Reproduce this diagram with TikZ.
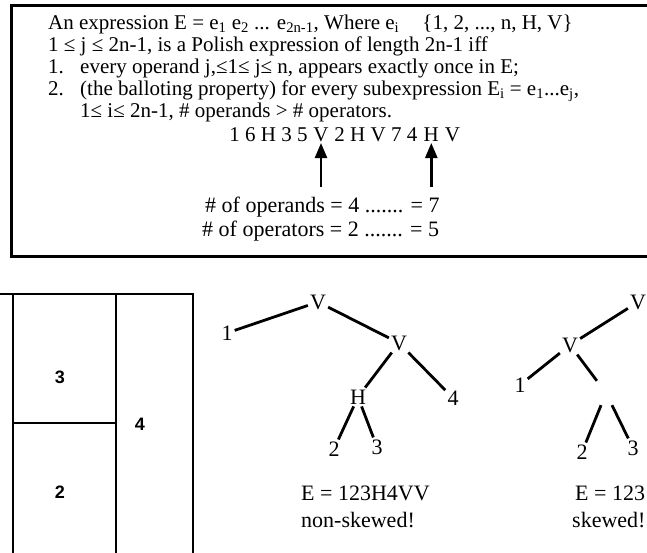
\documentclass[tikz,border=0pt]{standalone}
\usepackage{fontspec}
\setmainfont{Liberation Serif}
\newfontfamily\arialf{Liberation Sans}
\usetikzlibrary{arrows.meta}
\begin{document}
\begin{tikzpicture}[x=1pt,y=-1pt,
  txt/.style={anchor=base west, inner sep=0pt, font=\fontsize{21}{22}\selectfont},
  seqt/.style={inner sep=0pt, font=\fontsize{21}{22}\selectfont},
  tlab/.style={inner sep=2pt, font=\fontsize{22}{24}\selectfont},
  btxt/.style={anchor=base west, inner sep=0pt, font=\fontsize{22}{24}\selectfont},
  clab/.style={inner sep=0pt, font=\arialf\bfseries\fontsize{18}{20}\selectfont},
  edge/.style={line width=2.8pt},
  wall/.style={line width=2.8pt},
  frame/.style={line width=3pt},
  up/.style={line width=2.4pt, -{Triangle[width=12pt,length=15pt]}}]
\useasboundingbox (0,0) rectangle (647,552);
\clip (0,0) rectangle (647,552);
% top box
\draw[frame] (11,5) rectangle (670,256);
\node[txt] (l1) at (48,29) {An expression E = e\textsubscript{1} e\textsubscript{2} ... e\textsubscript{2n-1}, Where e\textsubscript{i}\hspace{1.1em}\{1, 2, ..., n, H, V\}};
\node[txt] (l2) at (48,51) {1 ≤ j ≤ 2n-1, is a Polish expression of length 2n-1 iff};
\node[txt] (l3a) at (48,73) {1.};
\node[txt] (l3) at (80,73) {every operand j,≤1≤ j≤ n, appears exactly once in E;};
\node[txt] (l4a) at (48,95) {2.};
\node[txt] (l4) at (80,95) {(the balloting property) for every subexpression E\textsubscript{i} = e\textsubscript{1}...e\textsubscript{j},};
\node[txt] (l5) at (80,117) {1≤ i≤ 2n-1, \# operands > \# operators.};
% sequence
\node[seqt, anchor=base] (sv) at (321,141) {V};
\node[seqt, anchor=base east] (sa) at ([xshift=-5.5pt]sv.base west) {1 6 H 3 5};
\node[seqt, anchor=base west] (sb) at ([xshift=5.5pt]sv.base east) {2 H V 7 4};
\node[seqt, anchor=base west] (sh) at ([xshift=6pt]sb.base east) {H};
\node[seqt, anchor=base west] (sw) at ([xshift=5.5pt]sh.base east) {V};
\coordinate (a1s) at ([yshift=-46pt]sv.base);
\coordinate (a2s) at ([yshift=-46pt]sh.base);
\draw[up] (a1s) -- ([yshift=-2pt]sv.base);
\draw[up] (a2s) -- ([yshift=-2pt]sh.base);
\node[txt, font=\fontsize{22}{24}\selectfont] (ops) at (205,212) {\# of operands = 4 ....... = 7};
\node[txt, font=\fontsize{22}{24}\selectfont] (opr) at (202,236) {\# of operators = 2 ....... = 5};
% floorplan
\draw[wall] (-5,294) -- (194,294);
\draw[wall] (13,294) -- (13,560);
\draw[wall] (116,294) -- (116,560);
\draw[wall] (193,294) -- (193,560);
\draw[wall] (13,423) -- (116,423);
\node[clab] (c3) at (60,377) {3};
\node[clab] (c4) at (140,424) {4};
\node[clab] (c2) at (60,492) {2};
% non-skewed tree
\node[tlab] (va) at (318,302) {V};
\node[tlab] (t1) at (227,333) {1};
\node[tlab] (vb) at (399,343) {V};
\node[tlab] (hc) at (358,397) {H};
\node[tlab] (t4) at (453,398) {4};
\node[tlab] (t2) at (334,449) {2};
\node[tlab] (t3) at (377,447) {3};
\draw[edge] (t1) -- (va);
\draw[edge] (va) -- (vb);
\draw[edge] (vb) -- (hc);
\draw[edge] (vb) -- (t4);
\draw[edge] (hc) -- (t2);
\draw[edge] (hc) -- (t3);
\node[btxt] (e1) at (301,500) {E = 123H4VV};
\node[btxt] (s1) at (301,527) {non-skewed!};
% skewed tree
\node[tlab] (wa) at (638,302) {V};
\node[tlab] (wb) at (570,345) {V};
\node[tlab] (u1) at (520,385) {1};
\node[inner sep=0pt, minimum width=22pt, minimum height=24pt] (wh) at (606,393) {};
\node[tlab] (u2) at (582,452) {2};
\node[tlab] (u3) at (633,448) {3};
\draw[edge] (wb) -- (wa);
\draw[edge] (u1) -- (wb);
\draw[edge] (wb) -- (wh);
\draw[edge] (wh) -- (u2);
\draw[edge] (wh) -- (u3);
\node[btxt] (e2) at (575,500) {E = 123};
\node[btxt] (s2) at (572,527) {skewed!};
\end{tikzpicture}
\end{document}
